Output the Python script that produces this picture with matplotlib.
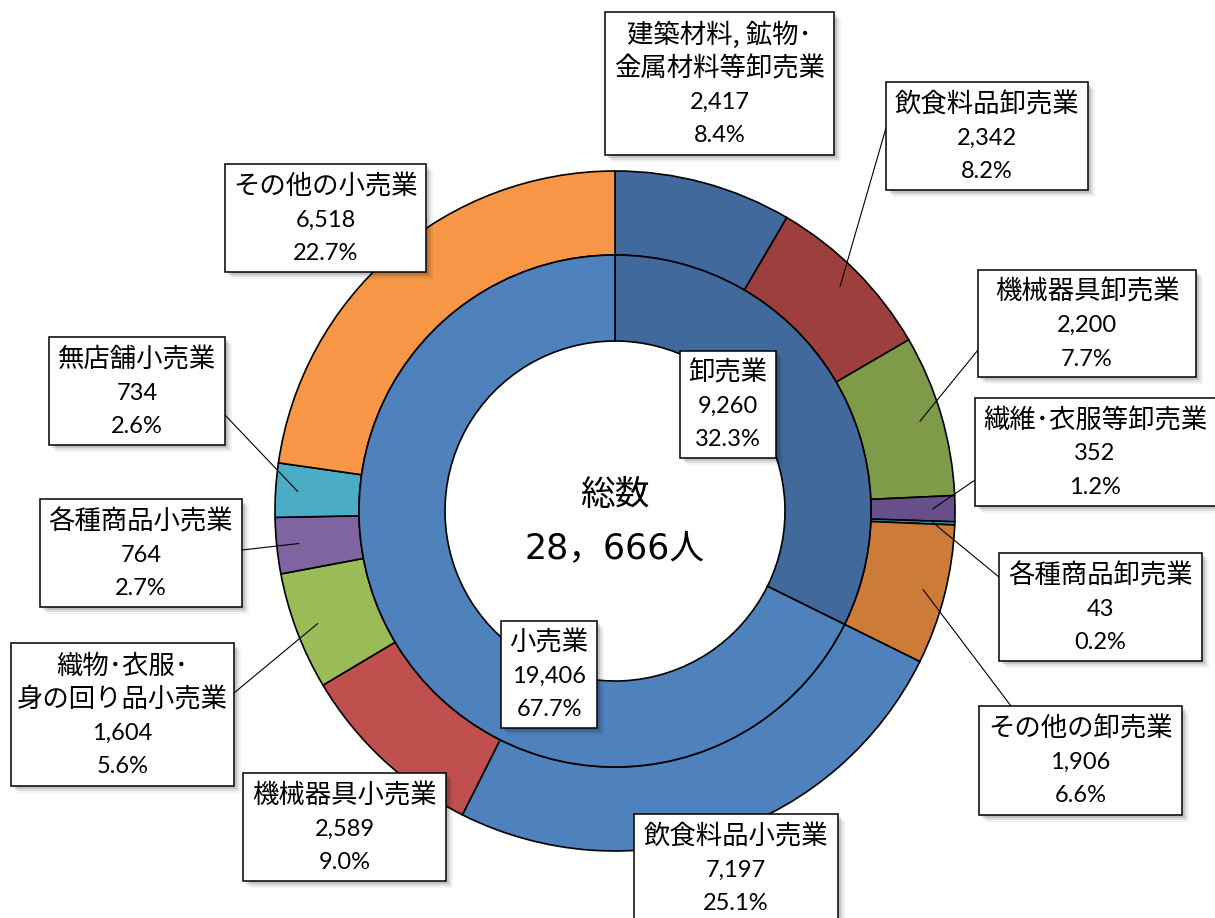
import matplotlib
matplotlib.use("Agg")
import numpy as np
import matplotlib.pyplot as plt
from matplotlib.patches import Rectangle

# ---------------------------------------------------------------
# data
# ---------------------------------------------------------------
groups = ["卸売業", "小売業"]
group_values = [9260, 19406]

categories = [
    "建築材料, 鉱物･\n金属材料等卸売業",
    "飲食料品卸売業",
    "機械器具卸売業",
    "繊維･衣服等卸売業",
    "各種商品卸売業",
    "その他の卸売業",
    "飲食料品小売業",
    "機械器具小売業",
    "織物･衣服･\n身の回り品小売業",
    "各種商品小売業",
    "無店舗小売業",
    "その他の小売業",
]
values = [2417, 2342, 2200, 352, 43, 1906, 7197, 2589, 1604, 764, 734, 6518]

total_title = "総数"
total_unit = "人"

# ---------------------------------------------------------------
# styling / layout (pixel coordinates of a 1215x918 canvas, y down)
# ---------------------------------------------------------------
W, H = 1215, 918
CX, CY = 615, 511
R_OUT, R_MID, R_IN = 340, 256, 170

group_colors = ["#41699B", "#4F81BD"]
cat_colors = ["#41699B", "#9D3F3D", "#7F9A48", "#67508A", "#3A9BB3", "#CC7B38",
              "#4F81BD", "#C0504D", "#9BBB59", "#8064A2", "#4BACC6", "#F79646"]

# box: (left, top, right, bottom), leader end on box (or None)
cat_boxes = [
    ((605, 12, 834, 155), None),
    ((886, 82, 1088, 190), (886, 128)),
    ((978, 270, 1196, 377), (978, 350)),
    ((975, 398, 1218, 506), (975, 480)),
    ((999, 553, 1202, 661), (999, 577)),
    ((979, 706, 1182, 815), (1011, 706)),
    ((634, 814, 838, 922), None),
    ((243, 773, 446, 881), None),
    ((11, 643, 234, 786), (234, 693)),
    ((40, 499, 242, 607), (242, 550)),
    ((49, 337, 225, 445), (225, 415)),
    ((225, 164, 426, 272), None),
]
group_boxes = [(680, 351, 776, 458), (501, 621, 597, 728)]

JP = "Noto Sans CJK JP"
NUM = "Lato"
LINE_STEP = 33.5

fig = plt.figure(figsize=(W / 100, H / 100), dpi=100)
ax = fig.add_axes([0, 0, 1, 1])

edge = dict(edgecolor="black", linewidth=1.2)
ax.pie(values, radius=R_OUT, center=(CX, H - CY), startangle=90, counterclock=False,
       colors=cat_colors, wedgeprops=dict(width=R_OUT - R_MID, **edge))
ax.pie(group_values, radius=R_MID, center=(CX, H - CY), startangle=90, counterclock=False,
       colors=group_colors, wedgeprops=dict(width=R_MID - R_IN, **edge))

ax.set_xlim(0, W)
ax.set_ylim(0, H)
ax.set_aspect("equal")
ax.axis("off")

total = sum(values)


def draw_box(box, name, value, leader_end=None, anchor=None):
    left, top, right, bottom = box
    w, h = right - left, bottom - top
    y0 = H - bottom
    # soft shadow
    for off, a in [(3, 0.12), (5, 0.08), (7, 0.05)]:
        ax.add_patch(Rectangle((left + off, y0 - off), w, h, fc="black", ec="none",
                               alpha=a, zorder=4))
    ax.add_patch(Rectangle((left, y0), w, h, fc="white", ec="black", lw=1.1, zorder=5))

    if leader_end is not None and anchor is not None:
        ax.plot([anchor[0], leader_end[0]], [H - anchor[1], H - leader_end[1]],
                color="black", lw=0.8, zorder=3)

    name_lines = name.split("\n")
    lines = [(s, JP, 19) for s in name_lines]
    lines.append((f"{value:,}", NUM, 17))
    lines.append((f"{value / total * 100:.1f}%", NUM, 17))
    n = len(lines)
    xc = (left + min(right, left + 240)) / 2 if right > W else (left + right) / 2
    yc = (top + bottom) / 2 + 2
    for i, (s, fam, fs) in enumerate(lines):
        yy = yc + (i - (n - 1) / 2) * LINE_STEP
        ax.text(xc, H - yy, s, ha="center", va="center", fontsize=fs,
                family=[fam, JP], zorder=6, color="black")


# outer ring labels
cum = np.cumsum([0] + values)
for i, (name, v) in enumerate(zip(categories, values)):
    box, lead = cat_boxes[i]
    mid = (cum[i] + cum[i + 1]) / 2 / total * 2 * np.pi
    r = 318
    anchor = (CX + r * np.sin(mid), CY - r * np.cos(mid))
    draw_box(box, name, v, lead, anchor)

# inner ring labels
for g, v, box in zip(groups, group_values, group_boxes):
    draw_box(box, g, v)

# centre text
ax.text(CX, H - 495, total_title, ha="center", va="center", fontsize=25,
        family=[JP], zorder=6)
ax.text(CX, H - 548, f"{total:,}".replace(",", "，") + total_unit, ha="center",
        va="center", fontsize=25, family=["DejaVu Sans", JP], zorder=6)

fig.savefig("out.png", dpi=100)
